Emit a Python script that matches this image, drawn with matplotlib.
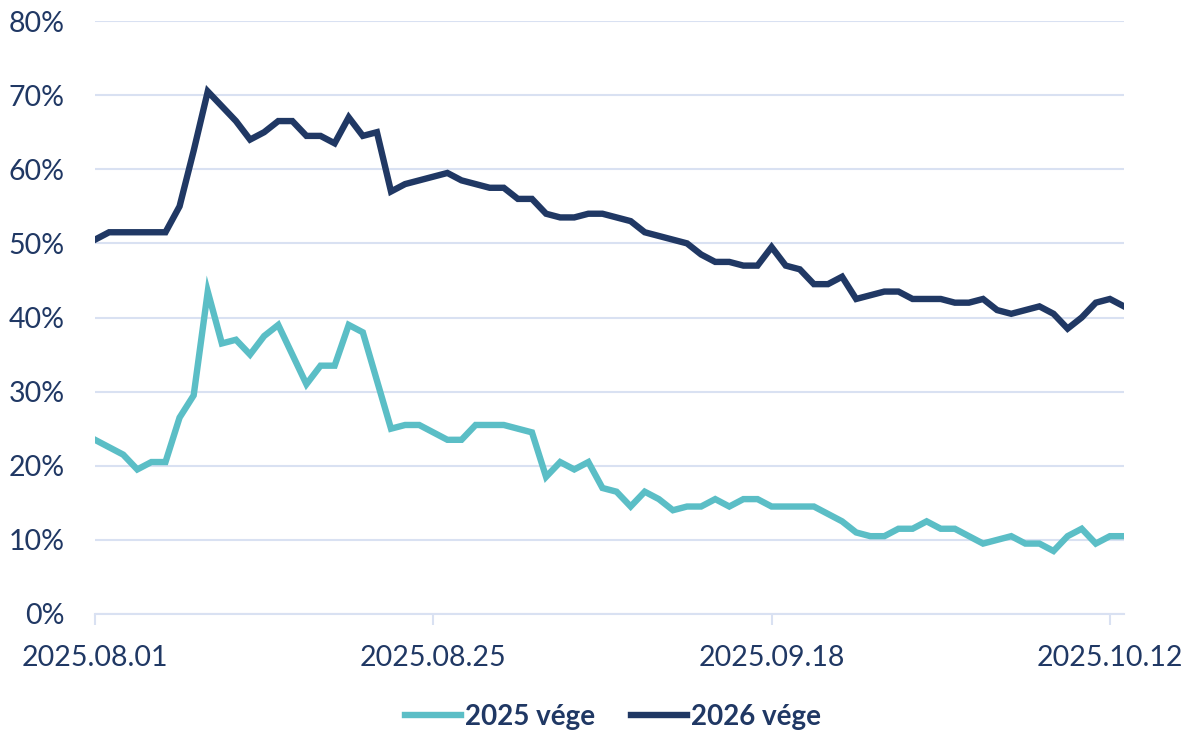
import matplotlib
matplotlib.use('Agg')
import matplotlib.dates as mdates
import pandas as pd
from matplotlib import pyplot as plt

# daily observations, 2025.08.01 - 2025.10.13
dates = pd.date_range('2025-08-01', periods=74, freq='D')

vege_2025 = [
    23.5, 22.5, 21.5, 19.5, 20.5, 20.5, 26.5, 29.5, 43.5, 36.5,
    37.0, 35.0, 37.5, 39.0, 35.0, 31.0, 33.5, 33.5, 39.0, 38.0,
    31.5, 25.0, 25.5, 25.5, 24.5, 23.5, 23.5, 25.5, 25.5, 25.5,
    25.0, 24.5, 18.5, 20.5, 19.5, 20.5, 17.0, 16.5, 14.5, 16.5,
    15.5, 14.0, 14.5, 14.5, 15.5, 14.5, 15.5, 15.5, 14.5, 14.5,
    14.5, 14.5, 13.5, 12.5, 11.0, 10.5, 10.5, 11.5, 11.5, 12.5,
    11.5, 11.5, 10.5, 9.5, 10.0, 10.5, 9.5, 9.5, 8.5, 10.5,
    11.5, 9.5, 10.5, 10.5,
]

vege_2026 = [
    50.5, 51.5, 51.5, 51.5, 51.5, 51.5, 55.0, 62.5, 70.5, 68.5,
    66.5, 64.0, 65.0, 66.5, 66.5, 64.5, 64.5, 63.5, 67.0, 64.5,
    65.0, 57.0, 58.0, 58.5, 59.0, 59.5, 58.5, 58.0, 57.5, 57.5,
    56.0, 56.0, 54.0, 53.5, 53.5, 54.0, 54.0, 53.5, 53.0, 51.5,
    51.0, 50.5, 50.0, 48.5, 47.5, 47.5, 47.0, 47.0, 49.5, 47.0,
    46.5, 44.5, 44.5, 45.5, 42.5, 43.0, 43.5, 43.5, 42.5, 42.5,
    42.5, 42.0, 42.0, 42.5, 41.0, 40.5, 41.0, 41.5, 40.5, 38.5,
    40.0, 42.0, 42.5, 41.5,
]

tick_dates = ['2025-08-01', '2025-08-25', '2025-09-18', '2025-10-12']
y_ticks = [0, 10, 20, 30, 40, 50, 60, 70, 80]

TEAL = '#5bbec6'
NAVY = '#203864'
GRID = '#d9e1f2'

plt.rcParams['font.family'] = ['Lato', 'DejaVu Sans']

fig = plt.figure(figsize=(11.86, 7.34), dpi=100)
ax = fig.add_axes([95 / 1186, 120 / 734, 1029 / 1186, 593 / 734])

ax.plot(dates, vege_2025, color=TEAL, linewidth=4.6, label='2025 vége',
        solid_joinstyle='miter')
ax.plot(dates, vege_2026, color=NAVY, linewidth=4.6, label='2026 vége',
        solid_joinstyle='miter')

ax.set_xlim(dates[0], dates[-1])
ax.set_ylim(0, 80)
ax.set_yticks(y_ticks)
ax.set_yticklabels(['%d%%' % v for v in y_ticks])
ax.set_xticks(pd.to_datetime(tick_dates))
ax.xaxis.set_major_formatter(mdates.DateFormatter('%Y.%m.%d'))

ax.grid(True, axis='y', color=GRID, linewidth=1.5)
ax.set_axisbelow(True)
for side in ['top', 'right', 'left']:
    ax.spines[side].set_visible(False)
ax.spines['bottom'].set_color(GRID)
ax.spines['bottom'].set_linewidth(1.5)

ax.tick_params(axis='y', length=0, pad=22, labelsize=20.5, labelcolor=NAVY)
ax.tick_params(axis='x', length=8, width=1.5, color=GRID, pad=14,
               labelsize=20.5, labelcolor=NAVY)

leg = fig.legend(loc='center', bbox_to_anchor=(0.517, 0.023), ncol=2,
                 frameon=False, handlelength=2.0, handletextpad=0.15,
                 columnspacing=1.3, prop={'size': 20, 'weight': 'bold'})
for text in leg.get_texts():
    text.set_color(NAVY)

fig.savefig('out.png', dpi=100)
